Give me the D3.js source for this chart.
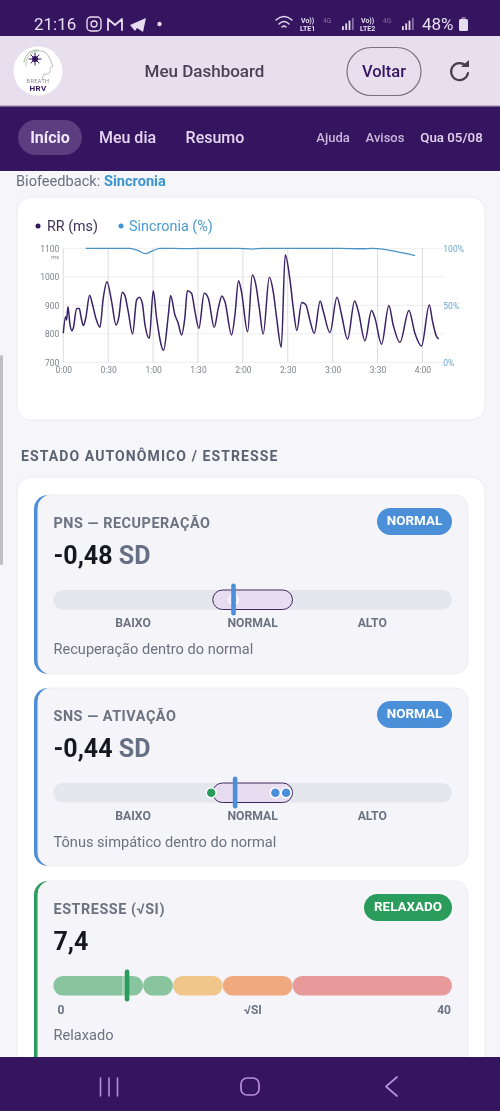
<!DOCTYPE html>
<html lang="pt-BR"><head><meta charset="utf-8">
<script src="https://cdn.jsdelivr.net/npm/d3@7"></script>
<style>
html,body{margin:0;padding:0;background:#f5f5fa;overflow:hidden}
svg{display:block;filter:blur(.4px)}
text{font-family:Roboto,"Noto Sans",sans-serif}
</style></head><body>
<svg id="c" width="500" height="1111" viewBox="0 0 500 1111"></svg>
<script>
// ---- data ----
const rrSeconds=[0,1.5,2.2,3.1,4.5,5.8,6.7,8.9,10.7,11.8,13.4,15,17.6,19.6,21.8,24.5,26.7,29.2,32.3,35.2,37,39.4,41.2,43.4,46.3,49,50.8,52.8,54.6,57.5,60.1,62.4,67,70.2,71.7,74.6,76.8,79,81.2,82.9,85.7,88,90.6,94.2,96.9,100.9,103.6,106,108,112.5,114.7,117.1,119,123.2,126.3,128.5,131,133.6,137.7,140.3,142.6,145.7,148.3,151.5,153.7,156.1,159.3,162,164.8,167.7,171.7,173.8,178.2,182.9,186,190,194.7,197.2,201.6,206,208.3,212.7,217.6,220.5,225,231,235,239.4,244.6,246.8,249.5,251];
const rrValues=[802,860,848,895,831,811,820,889,889,860,829,855,935,901,854,823,925,983,913,831,855,946,934,878,799,919,928,907,831,784,951,854,742,866,934,866,837,796,855,951,942,878,819,942,925,823,890,933,913,796,866,986,950,807,1006,977,890,799,998,948,855,753,1077,989,890,812,910,903,848,802,915,878,804,928,866,781,915,878,776,882,855,763,899,831,770,882,802,757,901,843,790,782];
const syncSeconds=[15,44.5,50,55,60,64.6,82,100,116,126,134,150,185,200,207,222.7,235];
const syncValues=[100,100,98,95.3,98,100,99.7,100,100,99.3,100,100,100,99.6,100,97,93.6];
const xTickSeconds=[0,30,60,90,120,150,180,210,240];
const xTickLabels=["0:00","0:30","1:00","1:30","2:00","2:30","3:00","3:30","4:00"];
const rrTicks=[700,800,900,1000,1100];
const syncTicks=[0,50,100];
const gaugeZoneLabels=["BAIXO","NORMAL","ALTO"];
const pnsValue=-0.48, snsValue=-0.44, stressValue=7.4;
const normalBand=[-1,1];
const pnsDots=[-0.48];
const snsDots=[-1.04,0.57,0.84];
const stressBreaks=[0,9,12,17,24,40];
const stressColors=["#88c49d","#88c49d","#f0c68a","#f0a97e","#e89a9b"];

// ---- helpers ----
const svg=d3.select("#c");
const FONT_GREY="#6b7280", DARK="#35155f", BLUE="#4a8fd8", GREEN="#2a9d5c";
function rect(x,y,w,h,f,r){return svg.append("rect").attr("x",x).attr("y",y).attr("width",w).attr("height",h).attr("fill",f).attr("rx",r||0)}
function txt(s,x,y,size,fill,weight,anchor,ls){return svg.append("text").attr("x",x).attr("y",y).attr("font-size",size).attr("fill",fill).attr("font-weight",weight||400).attr("text-anchor",anchor||"start").attr("letter-spacing",ls||0).text(s)}
function path(d,stroke,sw,fill){return svg.append("path").attr("d",d).attr("fill",fill||"none").attr("stroke",stroke||"none").attr("stroke-width",sw||1).attr("stroke-linecap","round").attr("stroke-linejoin","round")}

// ---- page chrome ----
rect(0,0,500,1111,"#f5f5fa");
rect(0,0,500,37,DARK);
rect(0,36,500,69,"#e8dfee");
rect(0,105,500,66,DARK);
rect(0,105,500,1.5,"#b8aec4");
rect(0,355,3,210,"#c0c0c4",1.5);

// status bar
const SB="#e6ddf0";
txt("21:16",34,30,17,SB,400);
svg.append("rect").attr("x",87).attr("y",17).attr("width",14).attr("height",14).attr("rx",4).attr("fill","none").attr("stroke",SB).attr("stroke-width",1.4);
svg.append("circle").attr("cx",94).attr("cy",24).attr("r",3).attr("fill","none").attr("stroke",SB).attr("stroke-width",1.3);
path("M108 30V19L115 25L122 19V30M108 19L115 25L122 19",SB,1.8);
path("M130 25L146 18L143 32L137 28L135 31Z",null,1,SB);
svg.append("circle").attr("cx",159.500).attr("cy",24).attr("r",2.2).attr("fill",SB);
path("M276 20Q284 13 292 20M279 24Q284 19 289 24M282 27Q284 25 286 27",SB,1.4);
txt("Vo))",301,23,7,SB,700);txt("LTE1",300,31,7,SB,700);
txt("4G",323,23,6.500,"#8a70a8",400);
txt("Vo))",361,23,7,SB,700);txt("LTE2",360,31,7,SB,700);
txt("4G",383,23,6.500,"#8a70a8",400);
[342,402].forEach(x0=>{[0,1,2,3].forEach(i=>rect(x0+i*3.300,29-(i+1)*2.800,1.800,(i+1)*2.800+1,i==3?"#8a70a8":SB))});
txt("48%",422,30,17,SB,400);
rect(459,19,9,12,SB,1.5);rect(461.500,17,4,2,"#8a70a8");

// header
svg.append("circle").attr("cx",38).attr("cy",71).attr("r",24.5).attr("fill","#fff");
path("M26 66C24 54 38 47 46 53C50 57 50 60 53 66L50 68C51 72 49 75 44 74L42 79",'#a9a9ae',.8);
path("M24 62C25 54 31 50 38 50",'#7fae6a',.8);
path("M35 53L35 65M29 59L41 59M31 55L39 63M39 55L31 63",'#35155f',1);
svg.append("circle").attr("cx",35).attr("cy",59).attr("r",3).attr("fill",DARK);
txt("BREATH",38,83,5.500,"#8a8a90",400,"middle",.4);
txt("HRV",38,91,8,DARK,700,"middle",.4);
txt("Meu Dashboard",204.500,77,17,"#4a4058",500,"middle");
svg.append("rect").attr("x",347).attr("y",47.500).attr("width",74).attr("height",48).attr("rx",24).attr("fill","none").attr("stroke","#7a7080").attr("stroke-width",1.2);
txt("Voltar",384,77,16.500,DARK,500,"middle");
path("M466 66A8.500 8.500 0 1 0 468 73","#454050",2.2);
path("M461 67L469 67L469 60Z",null,1,"#454050");

// nav
rect(18,120,64,35,"#5b3d80",17.5);
txt("Início",50,143,16,"#efe6f7",700,"middle");
txt("Meu dia",127.500,143,16,"#e4d6f0",500,"middle");
txt("Resumo",215,143,16,"#e4d6f0",500,"middle");
txt("Ajuda",333,142,13,"#c8b8dc",500,"middle");
txt("Avisos",385,142,13,"#c8b8dc",500,"middle");
txt("Qua 05/08",451.500,142,13.3,"#e4d6f0",500,"middle");
const bf=txt("Biofeedback: ",16,186,14.6,FONT_GREY);
bf.append("tspan").attr("fill","#3a95d0").attr("font-weight",700).text("Sincronia");

// ---- RR chart ----
rect(17,197,468,223,"#fff",14).attr("stroke","#ececf2");
svg.append("circle").attr("cx",38).attr("cy",226).attr("r",2.5).attr("fill",DARK);
txt("RR (ms)",47,231,14.3,"#3f3158",400);
svg.append("circle").attr("cx",121).attr("cy",226).attr("r",2.5).attr("fill","#3a95d0");
txt("Sincronia (%)",129,231,14.4,"#4a9ccf",400);

const x=d3.scaleLinear().domain([0,240]).range([63.3,422.4]);
const xEnd=x(254);
const yRR=d3.scaleLinear().domain([700,1100]).range([362.3,248.3]);
const ySync=d3.scaleLinear().domain([0,100]).range([362.3,248.3]);
const grid=svg.append("g");
rrTicks.forEach(t=>grid.append("line").attr("x1",x(0)).attr("x2",xEnd).attr("y1",yRR(t)).attr("y2",yRR(t)).attr("stroke","#eeeef2").attr("stroke-width",1));
xTickSeconds.forEach(t=>grid.append("line").attr("x1",x(t)).attr("x2",x(t)).attr("y1",yRR(1100)).attr("y2",yRR(700)).attr("stroke","#dcdce2").attr("stroke-width",1));

const axB=svg.append("g").attr("transform",`translate(0,${yRR(700)})`).call(d3.axisBottom(x).tickValues(xTickSeconds).tickFormat((d,i)=>xTickLabels[i]).tickSize(0).tickPadding(5));
const axL=svg.append("g").attr("transform",`translate(${x(0)},0)`).call(d3.axisLeft(yRR).tickValues(rrTicks).tickSize(0).tickFormat(d3.format("d")).tickPadding(4));
const axR=svg.append("g").attr("transform",`translate(${xEnd},0)`).call(d3.axisRight(ySync).tickValues(syncTicks).tickSize(0).tickFormat(d=>d+"%").tickPadding(0));
[axB,axL,axR].forEach(a=>{a.select(".domain").remove();a.selectAll("text").attr("font-size",8.500).attr("font-family","Roboto,sans-serif").attr("fill","#7d828c")});
axR.selectAll("text").attr("fill","#6aa5cd");
txt("ms",59,259,5.5,"#7d828c",400,"end");

const lineRR=d3.line().x((d,i)=>x(rrSeconds[i])).y(d=>yRR(d)).curve(d3.curveMonotoneX);
const lineSync=d3.line().x((d,i)=>x(syncSeconds[i])).y(d=>ySync(d)).curve(d3.curveMonotoneX);
svg.append("path").attr("d",lineSync(syncValues)).attr("fill","none").attr("stroke","#4a92c4").attr("stroke-width",1.3);
svg.append("path").attr("d",lineRR(rrValues)).attr("fill","none").attr("stroke","#3b2266").attr("stroke-width",1.5);

// ---- section ----
txt("ESTADO AUTONÔMICO / ESTRESSE",21,461,14,"#5a6272",700,"start",1.1);
rect(17,477,468,640,"#fff",14).attr("stroke","#ececf2");

// ---- gauges ----
const gx=d3.scaleLinear().domain([-5,5]).range([53.3,452]);
const sx=d3.scaleLinear().domain([0,40]).range([53.3,452]);
function cardBase(top,bottom,color){
  const h=bottom-top;
  rect(34,top,60,h,color,14);
  rect(38,top,430,h,"#f4f4f9",13).attr("stroke","#eeeef3");
}
function head(title,value,unit,badge,badgeX,color,top){
  txt(title,53.5,top+32.5,14.4,FONT_GREY,700,"start",.55);
  const v=txt(value,53.5,top+69,25,"#17171f",700);
  if(unit)v.append("tspan").attr("fill","#667085").text(" "+unit);
  rect(badgeX,top+13,452-badgeX,27,color,13.500);
  txt(badge,(badgeX+452)/2,top+30,13.4,"#fff",700,"middle");
}
function sdGauge(top,value,dots,title,desc,unit){
  head(title,value.toFixed(2).replace(".",","),unit,"NORMAL",377,BLUE,top);
  const ty=top+95;
  rect(gx(-5),ty,gx(5)-gx(-5),19.500,"#e4e7ed",9.750);
  svg.append("rect").attr("x",gx(normalBand[0])).attr("y",ty).attr("width",gx(normalBand[1])-gx(normalBand[0])).attr("height",19.500).attr("rx",9.750).attr("fill","#e8dcf1").attr("stroke","#3f2a5f").attr("stroke-width",1);
  dots.forEach((d,i)=>{
    const col=d===value?"#e8dcf1":(d<-1?GREEN:BLUE);
    svg.append("circle").attr("cx",gx(d)).attr("cy",ty+9.750).attr("r",d===value?4.500:5).attr("fill",col).attr("stroke","#fff").attr("stroke-width",1.5);
  });
  rect(gx(value)-2.300,ty-6.500,4.600,32,BLUE,2.300);
  gaugeZoneLabels.forEach((l,i)=>txt(l,gx(-3+3*i),top+132,12.2,FONT_GREY,700,"middle"));
  txt(desc,53.5,top+159,14.6,FONT_GREY);
}
cardBase(495,674,BLUE);
sdGauge(495,pnsValue,pnsDots,"PNS — RECUPERAÇÃO","Recuperação dentro do normal","SD");
cardBase(688,866,BLUE);
sdGauge(688,snsValue,snsDots,"SNS — ATIVAÇÃO","Tônus simpático dentro do normal","SD");
cardBase(881,1120,GREEN);
head("ESTRESSE (√SI)",String(stressValue).replace(".",","),null,"RELAXADO",364,GREEN,881);
const sty=976;
stressColors.forEach((c,i)=>rect(sx(stressBreaks[i]),sty,sx(stressBreaks[i+1])-sx(stressBreaks[i]),19.500,c,9.750));
rect(sx(stressValue)-2.300,sty-6.500,4.600,32,GREEN,2.300);
rect(sx(stressValue)-5,sty,2.500,19.500,"#f4f4f9").attr("opacity",.35);
txt(stressBreaks[0],61,1014,12,FONT_GREY,700,"middle");
txt("√SI",253,1014,12,FONT_GREY,700,"middle");
txt(stressBreaks[5],451,1014,12,FONT_GREY,700,"end");
txt("Relaxado",53.5,1040,14.6,FONT_GREY);

// bottom nav
rect(0,1057,500,54,DARK);
[100.5,109,117.5].forEach(px=>path(`M${px} 1078V1096`,"#b78fd8",1.6));
svg.append("rect").attr("x",241).attr("y",1078).attr("width",18).attr("height",17).attr("rx",6).attr("fill","none").attr("stroke","#b78fd8").attr("stroke-width",1.7);
path("M397 1077L386 1086.500L397 1096","#b78fd8",1.7);
</script></body></html>
